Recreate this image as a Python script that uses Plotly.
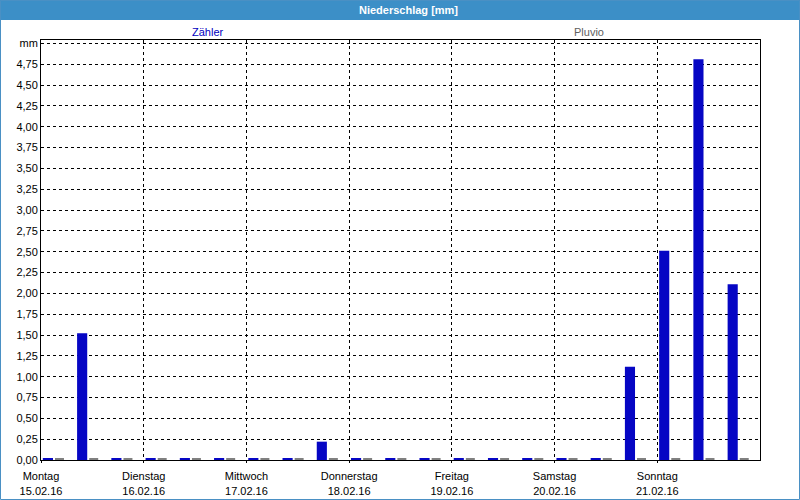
import plotly.graph_objects as go

# ---- data ----
interval_start = [
    "2016-02-15 00:00", "2016-02-15 08:00", "2016-02-15 16:00",
    "2016-02-16 00:00", "2016-02-16 08:00", "2016-02-16 16:00",
    "2016-02-17 00:00", "2016-02-17 08:00", "2016-02-17 16:00",
    "2016-02-18 00:00", "2016-02-18 08:00", "2016-02-18 16:00",
    "2016-02-19 00:00", "2016-02-19 08:00", "2016-02-19 16:00",
    "2016-02-20 00:00", "2016-02-20 08:00", "2016-02-20 16:00",
    "2016-02-21 00:00", "2016-02-21 08:00", "2016-02-21 16:00",
]
zaehler_mm = [0.015, 1.52, 0.015, 0.015, 0.015, 0.015, 0.015, 0.015, 0.22, 0.015, 0.015,
              0.015, 0.015, 0.015, 0.015, 0.015, 0.015, 1.12, 2.51, 4.81, 2.11]
pluvio_mm = [0.015] * 21

day_ticks = ["2016-02-15", "2016-02-16", "2016-02-17", "2016-02-18",
             "2016-02-19", "2016-02-20", "2016-02-21"]
day_names = ["Montag", "Dienstag", "Mittwoch", "Donnerstag", "Freitag", "Samstag", "Sonntag"]
day_dates = ["15.02.16", "16.02.16", "17.02.16", "18.02.16", "19.02.16", "20.02.16", "21.02.16"]

y_ticks = [0, 0.25, 0.5, 0.75, 1.0, 1.25, 1.5, 1.75, 2.0, 2.25, 2.5, 2.75,
           3.0, 3.25, 3.5, 3.75, 4.0, 4.25, 4.5, 4.75, 5.0]
y_labels = ["0,00", "0,25", "0,50", "0,75", "1,00", "1,25", "1,50", "1,75", "2,00", "2,25",
            "2,50", "2,75", "3,00", "3,25", "3,50", "3,75", "4,00", "4,25", "4,50", "4,75", "mm"]

title_text = "Niederschlag [mm]"
series_names = ["Zähler", "Pluvio"]

# ---- layout geometry (pixels) ----
W, H = 800, 500
L, R, T, B = 41, 40, 40, 40
PW, PH = W - L - R, H - T - B
MIN = 60 * 1000  # one minute in ms


def px_x(p):
    return (p - L) / PW


def px_y(p):
    return (H - B - p) / PH


FONT = "Liberation Sans"
BLUE = "#0606c4"
GRAY = "#808080"

fig = go.Figure()
fig.add_trace(go.Bar(
    x=interval_start, y=zaehler_mm, name=series_names[0],
    marker=dict(color=BLUE, line=dict(width=0)),
    offset=26 * MIN, width=142 * MIN,
))
fig.add_trace(go.Bar(
    x=interval_start, y=pluvio_mm, name=series_names[1],
    marker=dict(color=GRAY, line=dict(width=0)),
    offset=196 * MIN, width=126 * MIN,
))

fig.update_layout(
    width=W, height=H,
    margin=dict(l=L, r=R, t=T, b=B, pad=0, autoexpand=False),
    paper_bgcolor="white", plot_bgcolor="white",
    showlegend=False, barmode="overlay",
    font=dict(family=FONT, size=11, color="black"),
    xaxis=dict(
        type="date", range=["2016-02-15 00:00", "2016-02-22 00:00"],
        tickmode="array", tickvals=day_ticks,
        ticktext=[f"{n}<br>{d}" for n, d in zip(day_names, day_dates)],
        showgrid=True, gridcolor="black", gridwidth=1, griddash="3px,3px",
        showline=True, linecolor="black", linewidth=1, mirror=True,
        ticks="outside", ticklen=2, tickcolor="black",
        ticklabelstandoff=4, automargin=False,
        tickfont=dict(family=FONT, size=11, color="black"),
        fixedrange=True,
    ),
    yaxis=dict(
        range=[0, 5.04], tickmode="array", tickvals=y_ticks, ticktext=y_labels,
        showgrid=True, gridcolor="black", gridwidth=1, griddash="3px,3px",
        showline=True, linecolor="black", linewidth=1, mirror=True,
        zeroline=False, ticks="", automargin=False,
        tickfont=dict(family=FONT, size=11, color="black"),
        fixedrange=True,
    ),
    shapes=[
        dict(type="rect", xref="paper", yref="paper",
             x0=px_x(0), x1=px_x(W), y0=px_y(20), y1=px_y(0),
             fillcolor="#3c8fc7", line=dict(width=0), layer="above"),
        dict(type="rect", xref="paper", yref="paper",
             x0=px_x(0.5), x1=px_x(W - 0.5), y0=px_y(H - 0.5), y1=px_y(0.5),
             fillcolor="rgba(0,0,0,0)", line=dict(color="#4a90c4", width=1), layer="above"),
    ],
    annotations=[
        dict(text=f"<b>{title_text}</b>", xref="paper", yref="paper",
             x=px_x(408), y=px_y(10), showarrow=False,
             font=dict(family=FONT, size=11, color="white"),
             xanchor="center", yanchor="middle"),
        dict(text=series_names[0], xref="paper", yref="paper",
             x=px_x(208), y=px_y(32), showarrow=False,
             font=dict(family=FONT, size=11, color="#0000c0"),
             xanchor="center", yanchor="middle"),
        dict(text=series_names[1], xref="paper", yref="paper",
             x=px_x(589), y=px_y(32), showarrow=False,
             font=dict(family=FONT, size=11, color="#606060"),
             xanchor="center", yanchor="middle"),
    ],
)

fig.write_html("out.html", config={"displayModeBar": False})
